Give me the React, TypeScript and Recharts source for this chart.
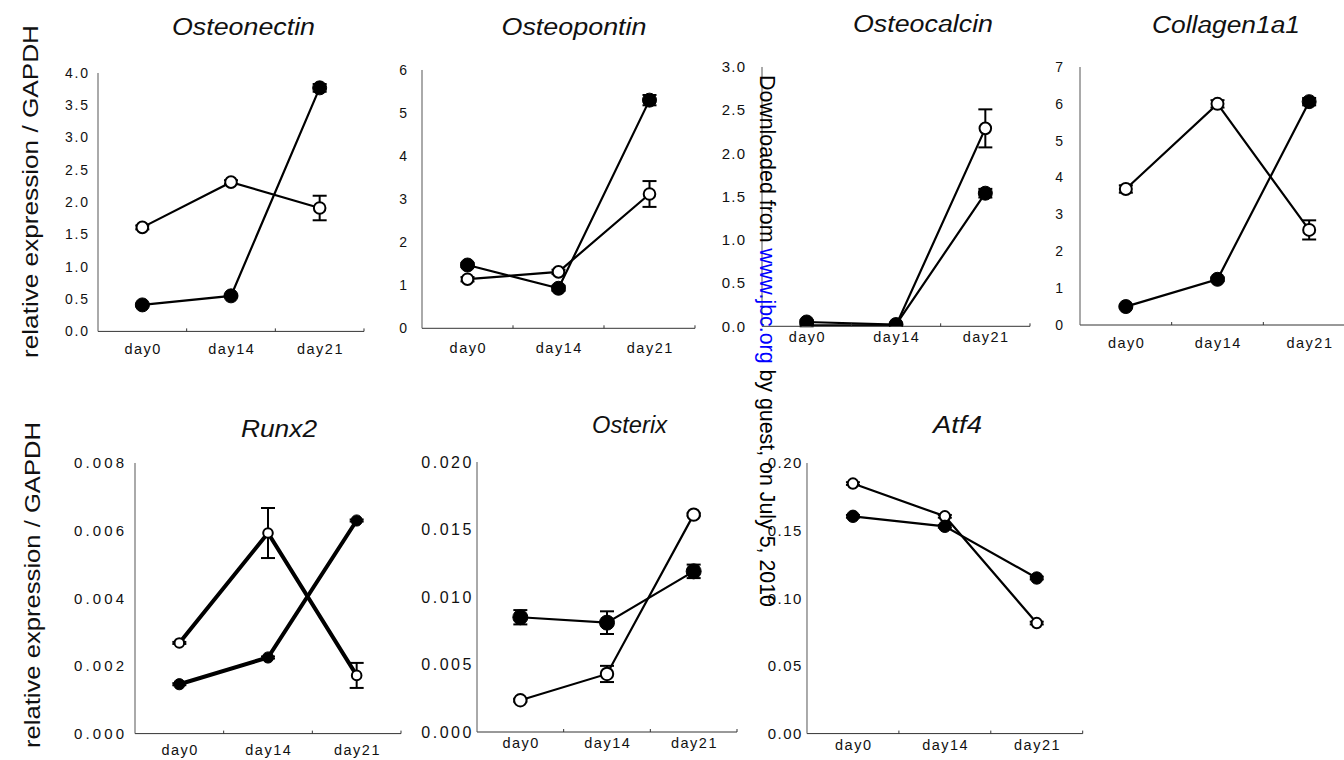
import React from 'react';
import { LineChart, Line, XAxis, YAxis, ErrorBar } from 'recharts';

// ---- categories ----
const days = ['day0', 'day14', 'day21'];

// ---- series values (open circles / filled circles) with SEM ----
const osteonectinOpen = [1.61, 2.31, 1.91];
const osteonectinOpenErr = [0.03, 0.03, 0.19];
const osteonectinFilled = [0.41, 0.55, 3.77];
const osteonectinFilledErr = [0.02, 0.02, 0.06];

const osteopontinOpen = [1.14, 1.31, 3.12];
const osteopontinOpenErr = [0.05, 0.05, 0.3];
const osteopontinFilled = [1.47, 0.93, 5.3];
const osteopontinFilledErr = [0.05, 0.06, 0.12];

const osteocalcinOpen = [0.01, 0.01, 2.29];
const osteocalcinOpenErr = [0.01, 0.005, 0.22];
const osteocalcinFilled = [0.05, 0.02, 1.54];
const osteocalcinFilledErr = [0.02, 0.01, 0.05];

const collagenOpen = [3.69, 6.0, 2.58];
const collagenOpenErr = [0.1, 0.1, 0.26];
const collagenFilled = [0.5, 1.24, 6.06];
const collagenFilledErr = [0.03, 0.05, 0.1];

const runx2Open = [0.00268, 0.00593, 0.00172];
const runx2OpenErr = [0.00003, 0.00074, 0.00037];
const runx2Filled = [0.00146, 0.00225, 0.0063];
const runx2FilledErr = [0.00003, 0.00003, 0.00003];

const osterixOpen = [0.00235, 0.0043, 0.0161];
const osterixOpenErr = [0.0001, 0.0006, 0.0001];
const osterixFilled = [0.0085, 0.0081, 0.0119];
const osterixFilledErr = [0.00053, 0.00084, 0.0005];

const atf4Open = [0.1848, 0.1606, 0.0817];
const atf4OpenErr = [0.001, 0.001, 0.001];
const atf4Filled = [0.1606, 0.1532, 0.115];
const atf4FilledErr = [0.001, 0.001, 0.001];

// ---- tick labels ----
const osteonectinTicks = [0, 0.5, 1, 1.5, 2, 2.5, 3, 3.5, 4];
const osteopontinTicks = [0, 1, 2, 3, 4, 5, 6];
const osteocalcinTicks = [0, 0.5, 1, 1.5, 2, 2.5, 3];
const collagenTicks = [0, 1, 2, 3, 4, 5, 6, 7];
const runx2Ticks = [0, 0.002, 0.004, 0.006, 0.008];
const osterixTicks = [0, 0.005, 0.01, 0.015, 0.02];
const atf4Ticks = [0, 0.05, 0.1, 0.15, 0.2];
const xTicks = [0, 0.5, 1, 1.5, 2, 2.5];

const yAxisTitle = 'relative expression / GAPDH';
const FONT = '"Liberation Sans", Arial, sans-serif';

type Rect = { l: number; t: number; r: number; b: number };
type PanelProps = {
  open: number[]; openErr: number[]; filled: number[]; filledErr: number[];
  ticks: number[]; decimals: number; plot: Rect;
  yFont: number; yLs: number; yGap: number; xDy: number;
  lineW: number; openR: number; filledR: number;
};

function XTick(props: any) {
  const { x, y, payload, labelDy } = props;
  const v = payload.value as number;
  const idx = Math.round(v);
  if (Math.abs(v - idx) > 0.01) {
    return <line x1={x} x2={x} y1={y} y2={y - 3} stroke="#333" strokeWidth={1} />;
  }
  return (
    <text x={x + 0.8} y={y + labelDy} textAnchor="middle" fontSize={14.5} letterSpacing={1.5}
      fontFamily={FONT} fill="#111">{days[idx]}</text>
  );
}

function YTick(props: any) {
  const { x, y, payload, fs, ls, gap, decimals } = props;
  const v = payload.value as number;
  return (
    <text x={x - gap + ls} y={y + fs * 0.35} textAnchor="end" fontSize={fs} letterSpacing={ls}
      fontFamily={FONT} fill="#111">{v.toFixed(decimals)}</text>
  );
}

function Panel(p: PanelProps) {
  const ML = 80, MT = 12, MB = 40, MR = 6;
  const w = p.plot.r - p.plot.l + ML + MR;
  const h = p.plot.b - p.plot.t + MT + MB;
  const data = days.map((d, i) => ({
    x: i, day: d, open: p.open[i], openErr: p.openErr[i], filled: p.filled[i], filledErr: p.filledErr[i],
  }));
  const yMax = p.ticks[p.ticks.length - 1];
  return (
    <div style={{ position: 'absolute', left: p.plot.l - ML, top: p.plot.t - MT, width: w, height: h }}>
      <LineChart width={w} height={h} data={data} margin={{ top: MT, right: MR, bottom: 0, left: 0 }}>
        <XAxis dataKey="x" type="number" domain={[-0.5, 2.5]} ticks={xTicks} interval={0} height={MB}
          tickSize={0} tickMargin={0} tickLine={false} allowDataOverflow
          axisLine={{ stroke: '#333', strokeWidth: 1 }}
          tick={(tp: any) => <XTick {...tp} labelDy={p.xDy} />} />
        <YAxis type="number" domain={[0, yMax]} ticks={p.ticks} interval={0} width={ML}
          tickSize={0} tickMargin={0} tickLine={false} allowDataOverflow
          axisLine={{ stroke: '#555', strokeWidth: 1 }}
          tick={(tp: any) => <YTick {...tp} fs={p.yFont} ls={p.yLs} gap={p.yGap} decimals={p.decimals} />} />
        <Line dataKey="open" type="linear" stroke="#000" strokeWidth={p.lineW} isAnimationActive={false}
          dot={{ r: p.openR, fill: '#fff', stroke: '#000', strokeWidth: 2 }} activeDot={false}>
          <ErrorBar dataKey="openErr" direction="y" width={7} offset={1.5} stroke="#000" strokeWidth={2} />
        </Line>
        <Line dataKey="filled" type="linear" stroke="#000" strokeWidth={p.lineW} isAnimationActive={false}
          dot={{ r: p.filledR, fill: '#000', stroke: '#000', strokeWidth: 1 }} activeDot={false}>
          <ErrorBar dataKey="filledErr" direction="y" width={7} offset={1.5} stroke="#000" strokeWidth={2} />
        </Line>
      </LineChart>
    </div>
  );
}

const titleStyle = { fontFamily: FONT, fontStyle: 'italic' as const, fontSize: 23, fill: '#111' };

export default function App() {
  return (
    <div style={{ position: 'absolute', left: 0, top: 0, width: 1344, height: 760, overflow: 'hidden', background: '#fff' }}>
      <Panel open={osteonectinOpen} openErr={osteonectinOpenErr} filled={osteonectinFilled} filledErr={osteonectinFilledErr}
        ticks={osteonectinTicks} decimals={1} plot={{ l: 98, t: 73.3, r: 364, b: 331.7 }}
        yFont={14} yLs={1.8} yGap={10} xDy={23} lineW={2.2} openR={5.8} filledR={7} />
      <Panel open={osteopontinOpen} openErr={osteopontinOpenErr} filled={osteopontinFilled} filledErr={osteopontinFilledErr}
        ticks={osteopontinTicks} decimals={0} plot={{ l: 422, t: 70, r: 695, b: 328.3 }}
        yFont={14} yLs={1} yGap={15} xDy={25} lineW={2.2} openR={5.8} filledR={7} />
      <Panel open={osteocalcinOpen} openErr={osteocalcinOpenErr} filled={osteocalcinFilled} filledErr={osteocalcinFilledErr}
        ticks={osteocalcinTicks} decimals={1} plot={{ l: 762, t: 66.7, r: 1030, b: 326 }}
        yFont={15} yLs={1.2} yGap={17} xDy={16} lineW={2.2} openR={5.8} filledR={7} />
      <Panel open={collagenOpen} openErr={collagenOpenErr} filled={collagenFilled} filledErr={collagenFilledErr}
        ticks={collagenTicks} decimals={0} plot={{ l: 1080, t: 67, r: 1355, b: 325 }}
        yFont={14} yLs={0.5} yGap={17} xDy={23} lineW={2.2} openR={6} filledR={7} />
      <Panel open={runx2Open} openErr={runx2OpenErr} filled={runx2Filled} filledErr={runx2FilledErr}
        ticks={runx2Ticks} decimals={3} plot={{ l: 135, t: 462.7, r: 401, b: 733.3 }}
        yFont={15} yLs={3.1} yGap={11} xDy={21} lineW={4} openR={4.8} filledR={5.6} />
      <Panel open={osterixOpen} openErr={osterixOpenErr} filled={osterixFilled} filledErr={osterixFilledErr}
        ticks={osterixTicks} decimals={3} plot={{ l: 477.3, t: 461.7, r: 737.3, b: 731.7 }}
        yFont={16} yLs={2.5} yGap={5.6} xDy={15.5} lineW={2.2} openR={6.2} filledR={7.5} />
      <Panel open={atf4Open} openErr={atf4OpenErr} filled={atf4Filled} filledErr={atf4FilledErr}
        ticks={atf4Ticks} decimals={2} plot={{ l: 807.3, t: 462.7, r: 1083, b: 733.3 }}
        yFont={15} yLs={1.5} yGap={5.6} xDy={16} lineW={2.2} openR={5.2} filledR={6.2} />

      <svg width={1344} height={760} style={{ position: 'absolute', left: 0, top: 0, pointerEvents: 'none' }}>
        <text x={243.5} y={35} textAnchor="middle" textLength={143} lengthAdjust="spacingAndGlyphs" style={titleStyle}>Osteonectin</text>
        <text x={574} y={35} textAnchor="middle" textLength={145} lengthAdjust="spacingAndGlyphs" style={titleStyle}>Osteopontin</text>
        <text x={923} y={32.3} textAnchor="middle" textLength={140} lengthAdjust="spacingAndGlyphs" style={titleStyle}>Osteocalcin</text>
        <text x={1226} y={33.3} textAnchor="middle" textLength={148} lengthAdjust="spacingAndGlyphs" style={titleStyle}>Collagen1a1</text>
        <text x={279} y={436.7} textAnchor="middle" textLength={76} lengthAdjust="spacingAndGlyphs" style={titleStyle}>Runx2</text>
        <text x={629.5} y={433.3} textAnchor="middle" textLength={75} lengthAdjust="spacingAndGlyphs" style={titleStyle}>Osterix</text>
        <text x={957.5} y={432.7} textAnchor="middle" textLength={49} lengthAdjust="spacingAndGlyphs" style={titleStyle}>Atf4</text>

        <text transform="translate(38,191.5) rotate(-90)" textAnchor="middle" textLength={333} lengthAdjust="spacingAndGlyphs"
          fontFamily={FONT} fontSize={22} fill="#111">{yAxisTitle}</text>
        <text transform="translate(40,585) rotate(-90)" textAnchor="middle" textLength={326} lengthAdjust="spacingAndGlyphs"
          fontFamily={FONT} fontSize={22} fill="#111">{yAxisTitle}</text>

        <text transform="translate(760,75) rotate(90)" textLength={532} lengthAdjust="spacingAndGlyphs"
          fontFamily={FONT} fontSize={21.5} fill="#000">
          <tspan>Downloaded from </tspan>
          <tspan fill="#0000ff">www.jbc.org</tspan>
          <tspan> by guest, on July 5, 2010</tspan>
        </text>
      </svg>
    </div>
  );
}
